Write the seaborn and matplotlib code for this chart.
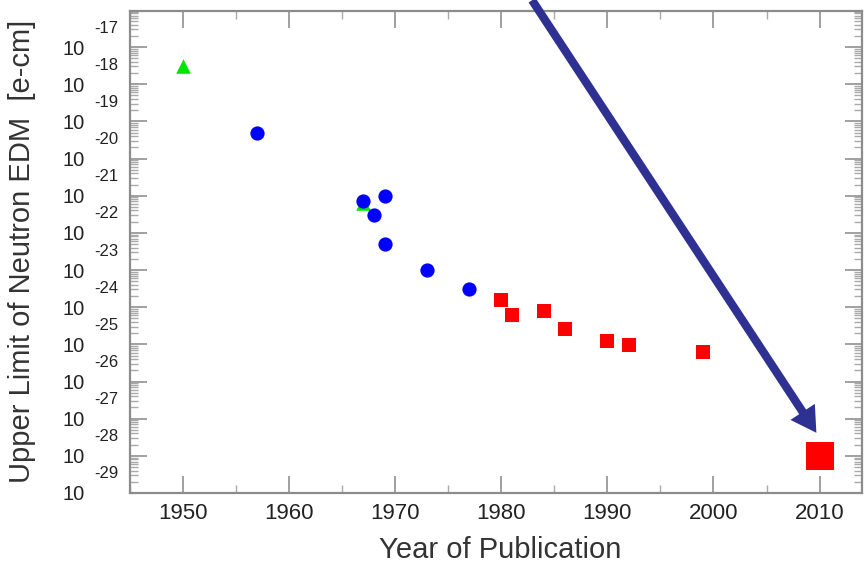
import numpy as np
import pandas as pd
import matplotlib
matplotlib.use("Agg")
import matplotlib.pyplot as plt
import matplotlib.transforms as mtransforms
from matplotlib.ticker import MultipleLocator, LogLocator, NullFormatter
import seaborn as sns

# green triangles: early limits (second one mostly hidden behind the 1967 circle)
green_years = [1950, 1967]
green_edm = [3.0e-18, 6.2e-22]

# blue circles: beam experiments
blue_years = [1957, 1967, 1968, 1969, 1969, 1973, 1977]
blue_edm = [5.0e-20, 7.0e-22, 3.0e-22, 1.0e-21, 5.0e-23, 1.0e-23, 3.0e-24]

# red squares: ultracold neutron experiments
red_years = [1980, 1981, 1984, 1986, 1990, 1992, 1999]
red_edm = [1.6e-24, 6.0e-25, 8.0e-25, 2.6e-25, 1.2e-25, 9.7e-26, 6.3e-26]

# projected limit
goal_year = [2010]
goal_edm = [1.0e-28]

# y tick decades
exponents = list(range(-29, -16))

# arrow from above the plot to the projected point
arrow_start = (1982.9, 10 ** -15.74)
arrow_end = (2009.7, 10 ** -27.38)

sns.set_style("white")
plt.rcParams["font.family"] = ["Liberation Sans", "DejaVu Sans"]

fig = plt.figure(figsize=(8.65, 5.65), dpi=100)
ax = fig.add_axes([130 / 865, 72 / 565, 732 / 865, 482 / 565])

green = pd.DataFrame({"year": green_years, "edm": green_edm})
blue = pd.DataFrame({"year": blue_years, "edm": blue_edm})
red = pd.DataFrame({"year": red_years, "edm": red_edm})
goal = pd.DataFrame({"year": goal_year, "edm": goal_edm})

sns.scatterplot(data=green, x="year", y="edm", marker="^", color="#00e600",
                s=110, linewidth=0, ax=ax, zorder=3)
sns.scatterplot(data=blue, x="year", y="edm", marker="o", color="#0000ff",
                s=105, linewidth=0, ax=ax, zorder=4)
sns.scatterplot(data=red, x="year", y="edm", marker="s", color="#ff0000",
                s=90, linewidth=0, ax=ax, zorder=4)
sns.scatterplot(data=goal, x="year", y="edm", marker="s", color="#ff0000",
                s=380, linewidth=0, ax=ax, zorder=4)

ax.set_yscale("log")
ax.set_xlim(1945, 2014)
ax.set_ylim(10.0 ** -29, 10.0 ** -16.03)

ax.xaxis.set_major_locator(MultipleLocator(10))
ax.xaxis.set_minor_locator(MultipleLocator(5))
ax.set_yticks([10.0 ** e for e in exponents])
ax.yaxis.set_minor_locator(LogLocator(base=10, subs=np.arange(2, 10), numticks=200))
ax.yaxis.set_major_formatter(NullFormatter())
ax.yaxis.set_minor_formatter(NullFormatter())

ax.tick_params(which="both", left=True, bottom=True, top=True, right=True)
ax.tick_params(which="major", direction="in", length=12, width=1.3,
               color="#999999", labelsize=16, pad=7)
ax.tick_params(which="minor", direction="in", length=6, width=1.0,
               color="#aaaaaa")
ax.tick_params(axis="x", labelcolor="#222222")

for side in ["left", "right", "top", "bottom"]:
    ax.spines[side].set_color("#8c8c8c")
    ax.spines[side].set_linewidth(1.6)

# stacked "10" / exponent labels on the y axis
trans = mtransforms.blended_transform_factory(ax.transAxes, ax.transData)
for e in exponents:
    base = mtransforms.offset_copy(trans, fig=fig, x=-45, y=-2, units="dots")
    ax.text(0, 10.0 ** e, "10", transform=base, ha="right", va="center",
            fontsize=14.5, color="#222222")
    sup = mtransforms.offset_copy(trans, fig=fig, x=-36, y=19, units="dots")
    ax.text(0, 10.0 ** e, str(e), transform=sup, ha="left", va="center",
            fontsize=12, color="#222222")

ax.set_xlabel("")
ax.set_ylabel("")
fig.text(500 / 865, 1 - 550 / 565, "Year of Publication", ha="center",
         va="center", fontsize=21, color="#333333")
fig.text(22 / 865, 1 - 251 / 565, "Upper Limit of Neutron EDM  [e-cm]",
         ha="center", va="center", rotation=90, fontsize=21, color="#333333")

ax.annotate("", xy=arrow_end, xytext=arrow_start, annotation_clip=False,
            arrowprops=dict(width=6, headwidth=21, headlength=18, shrink=0,
                            color="#2e3192", linewidth=0),
            zorder=5)

fig.savefig("out.png", dpi=100)
